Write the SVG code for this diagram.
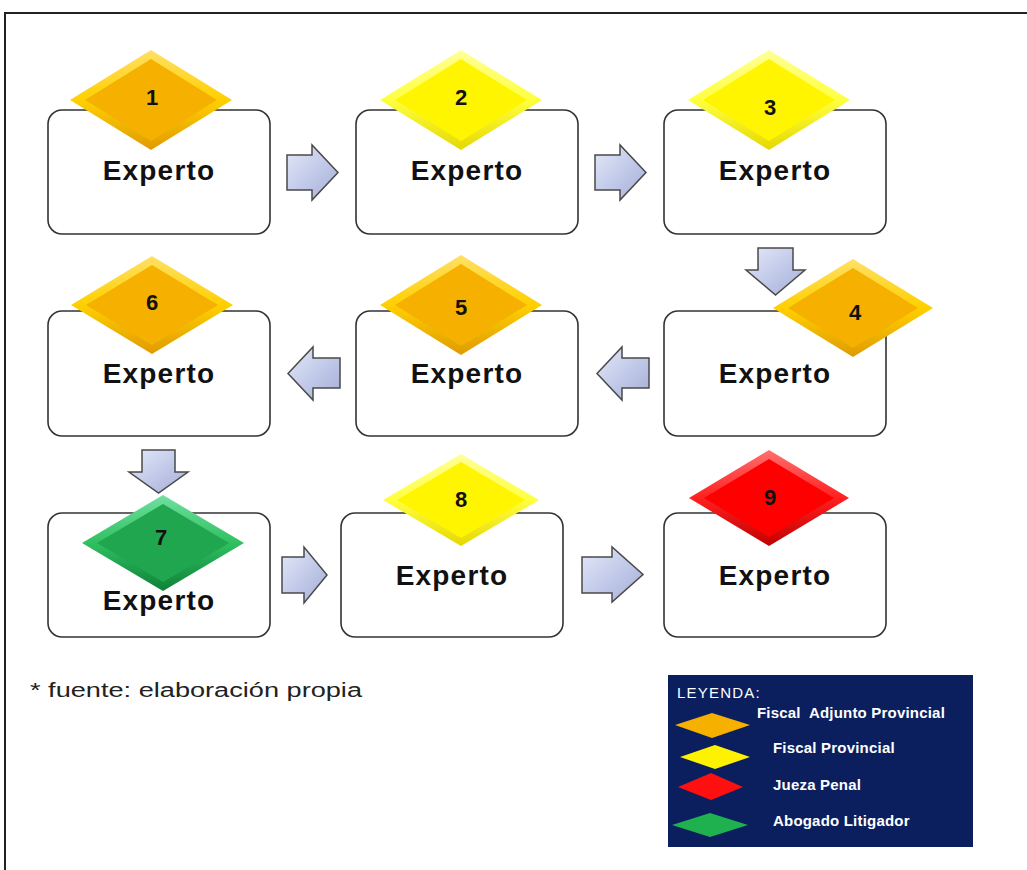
<svg xmlns="http://www.w3.org/2000/svg" width="1027" height="870" viewBox="0 0 1027 870">
<defs>
<linearGradient id="gOr" x1="0" y1="0" x2="0" y2="1"><stop offset="0" stop-color="#ffe066"/><stop offset="0.5" stop-color="#ffd000"/><stop offset="1" stop-color="#e09a00"/></linearGradient>
<linearGradient id="gYe" x1="0" y1="0" x2="0" y2="1"><stop offset="0" stop-color="#ffff99"/><stop offset="0.5" stop-color="#ffff40"/><stop offset="1" stop-color="#e6d800"/></linearGradient>
<linearGradient id="gRe" x1="0" y1="0" x2="0" y2="1"><stop offset="0" stop-color="#ff7070"/><stop offset="0.5" stop-color="#ff2020"/><stop offset="1" stop-color="#c00000"/></linearGradient>
<linearGradient id="gGr" x1="0" y1="0" x2="0" y2="1"><stop offset="0" stop-color="#70e0a0"/><stop offset="0.5" stop-color="#30c060"/><stop offset="1" stop-color="#0e8038"/></linearGradient>
<linearGradient id="gAr" x1="0" y1="0" x2="1" y2="1"><stop offset="0" stop-color="#e4e8f7"/><stop offset="0.5" stop-color="#c3cbea"/><stop offset="1" stop-color="#a4aed6"/></linearGradient>
<style>
.box{fill:#fff;stroke:#333;stroke-width:1.6}
.exp{font-family:"Liberation Sans",Arial,sans-serif;font-weight:bold;font-size:28px;letter-spacing:1.2px;fill:#111;text-anchor:middle}
.num{font-family:"Liberation Sans",Arial,sans-serif;font-weight:bold;font-size:22px;fill:#111;text-anchor:middle}
.or-o{fill:url(#gOr)}.or-i{fill:#f6b000}
.ye-o{fill:url(#gYe)}.ye-i{fill:#fff500}
.re-o{fill:url(#gRe)}.re-i{fill:#ff0000}
.gr-o{fill:url(#gGr)}.gr-i{fill:#1fa64e}
.arr{fill:url(#gAr);stroke:#4a4a4a;stroke-width:1.5;stroke-linejoin:miter}
.leg{font-family:"Liberation Sans",Arial,sans-serif;font-weight:bold;font-size:15px;fill:#fff;letter-spacing:0.2px}
.legt{font-family:"Liberation Sans",Arial,sans-serif;font-size:15px;fill:#fff;letter-spacing:1.2px}
.note{font-family:"Liberation Sans",Arial,sans-serif;font-size:20px;fill:#222}
</style>
</defs>
<rect width="1027" height="870" fill="#fff"/>
<path d="M5,870 V13 H1027" fill="none" stroke="#222" stroke-width="2"/>

<g id="node1">
<rect class="box" x="48" y="110" width="222" height="124" rx="14"/>
<polygon class="or-o" points="70,100 151,50 232,100 151,150"/>
<polygon class="or-i" points="85,100 151,59 217,100 151,141"/>
<text class="num" x="152" y="105">1</text>
<text class="exp" x="159" y="180">Experto</text>
</g>
<g id="node2">
<rect class="box" x="356" y="110" width="222" height="124" rx="14"/>
<polygon class="ye-o" points="380,100 461,50 542,100 461,150"/>
<polygon class="ye-i" points="395,100 461,59 527,100 461,141"/>
<text class="num" x="461" y="105">2</text>
<text class="exp" x="467" y="180">Experto</text>
</g>
<g id="node3">
<rect class="box" x="664" y="110" width="222" height="124" rx="14"/>
<polygon class="ye-o" points="688,100 769,50 850,100 769,150"/>
<polygon class="ye-i" points="703,100 769,59 835,100 769,141"/>
<text class="num" x="770" y="115">3</text>
<text class="exp" x="775" y="180">Experto</text>
</g>
<g id="node4">
<rect class="box" x="664" y="311" width="222" height="125" rx="14"/>
<polygon class="or-o" points="773,308 853,259 933,308 853,357"/>
<polygon class="or-i" points="788,308 853,268 918,308 853,348"/>
<text class="num" x="855" y="320">4</text>
<text class="exp" x="775" y="383">Experto</text>
</g>
<g id="node5">
<rect class="box" x="356" y="311" width="222" height="125" rx="14"/>
<polygon class="or-o" points="380,305 461,255 542,305 461,355"/>
<polygon class="or-i" points="395,305 461,264 527,305 461,346"/>
<text class="num" x="461" y="315">5</text>
<text class="exp" x="467" y="383">Experto</text>
</g>
<g id="node6">
<rect class="box" x="48" y="311" width="222" height="125" rx="14"/>
<polygon class="or-o" points="71,305 152,256 233,305 152,354"/>
<polygon class="or-i" points="86,305 152,265 218,305 152,345"/>
<text class="num" x="152" y="310">6</text>
<text class="exp" x="159" y="383">Experto</text>
</g>
<g id="node7">
<rect class="box" x="48" y="513" width="222" height="124" rx="14"/>
<polygon class="gr-o" points="82,543 163,495 244,543 163,591"/>
<polygon class="gr-i" points="97,543 163,504 229,543 163,582"/>
<text class="num" x="161" y="545">7</text>
<text class="exp" x="159" y="610">Experto</text>
</g>
<g id="node8">
<rect class="box" x="341" y="513" width="222" height="124" rx="14"/>
<polygon class="ye-o" points="383,500 461,454 539,500 461,546"/>
<polygon class="ye-i" points="397,500 461,462 525,500 461,538"/>
<text class="num" x="461" y="507">8</text>
<text class="exp" x="452" y="585">Experto</text>
</g>
<g id="node9">
<rect class="box" x="664" y="513" width="222" height="124" rx="14"/>
<polygon class="re-o" points="689,498 769,450 849,498 769,546"/>
<polygon class="re-i" points="704,498 769,459 834,498 769,537"/>
<text class="num" x="770" y="505">9</text>
<text class="exp" x="775" y="585">Experto</text>
</g>

<g id="connectors">
<path class="arr" d="M287,155 H312 V145 L338,172.5 L312,200 V190 H287 Z"/>
<path class="arr" d="M595,155 H620 V145 L646,172.5 L620,200 V190 H595 Z"/>
<path class="arr" d="M758,248 H793 V270 H805 L775.5,295 L746,270 H758 Z"/>
<path class="arr" d="M649,358 H622 V347 L597,373.5 L622,400 V388 H649 Z"/>
<path class="arr" d="M340,358 H313 V347 L288,373.5 L313,400 V388 H340 Z"/>
<path class="arr" d="M142,450 H175 V472 H188 L158.5,493 L129,472 H142 Z"/>
<path class="arr" d="M282,557 H304 V547 L327,575 L304,603 V593 H282 Z"/>
<path class="arr" d="M582,557 H612 V547 L643,574.5 L612,602 V593 H582 Z"/>
</g>

<text class="note" x="30" y="697" textLength="332" lengthAdjust="spacingAndGlyphs">* fuente: elaboración propia</text>

<g id="legend">
<rect x="668" y="675" width="305" height="172" fill="#0b1f5f"/>
<text class="legt" x="677" y="698">LEYENDA:</text>
<text class="leg" x="757" y="718" xml:space="preserve">Fiscal  Adjunto Provincial</text>
<polygon points="675,725 712,713 750,725 712,738" fill="#f6b000"/>
<text class="leg" x="773" y="753">Fiscal Provincial</text>
<polygon points="680,757 715,745 750,757 715,769" fill="#fff200"/>
<text class="leg" x="773" y="790">Jueza Penal</text>
<polygon points="678,787 711,773 743,787 711,800" fill="#ff1010"/>
<text class="leg" x="773" y="826">Abogado Litigador</text>
<polygon points="672,825 710,813 748,825 710,837" fill="#1fb050"/>
</g>
</svg>
